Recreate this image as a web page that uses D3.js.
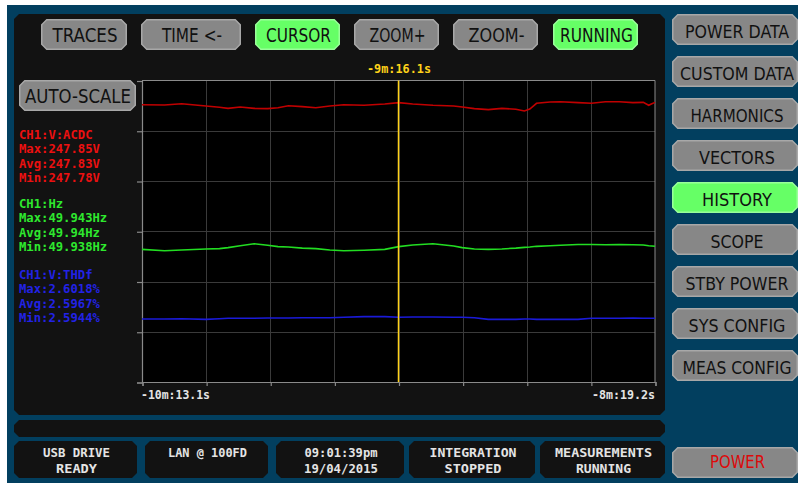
<!DOCTYPE html>
<html><head><meta charset="utf-8">
<script src="https://cdn.jsdelivr.net/npm/d3@7"></script>
<style>html,body{margin:0;padding:0;background:#fff;overflow:hidden}svg{display:block}</style>
</head><body><svg id="c" width="798" height="483"></svg>
<script>
// ---------------- DATA ----------------
const topButtons = ["TRACES","TIME <-","CURSOR","ZOOM+","ZOOM-","RUNNING"];
const topActive  = [false,false,true,false,false,true];
const sideButtons = ["POWER DATA","CUSTOM DATA","HARMONICS","VECTORS","HISTORY","SCOPE","STBY POWER","SYS CONFIG","MEAS CONFIG"];
const sideActive  = [false,false,false,false,true,false,false,false,false];
const powerLabel = "POWER";
const autoScaleLabel = "AUTO-SCALE";
const statusLines = [["USB DRIVE","READY"],["LAN @ 100FD"],["09:01:39pm","19/04/2015"],["INTEGRATION","STOPPED"],["MEASUREMENTS","RUNNING"]];
const xTickLabels = ["-10m:13.1s","-8m:19.2s"];
const cursorLabel = "-9m:16.1s";
const timeDomain = [-613.1, -499.2];   // seconds
const cursorTime = -556.15;
const voltageLegend = ["CH1:V:ACDC","Max:247.85V","Avg:247.83V","Min:247.78V"];
const freqLegend    = ["CH1:Hz","Max:49.943Hz","Avg:49.94Hz","Min:49.938Hz"];
const thdLegend     = ["CH1:V:THDf","Max:2.6018%","Avg:2.5967%","Min:2.5944%"];
const voltageRange = [247.78, 247.85];
const freqRange    = [49.938, 49.943];
const thdRange     = [2.5944, 2.6018];

const times = [-613.1,-608.1,-604.3,-598.9,-595.9,-594.0,-591.3,-588.2,-585.2,-582.9,
               -580.6,-577.5,-574.5,-571.4,-568.3,-563.8,-559.2,-556.1,-553.0,-548.5,
               -543.9,-542.0,-539.3,-536.2,-533.2,-530.1,-528.2,-527.0,-525.5,-522.5,
               -520.2,-516.3,-513.3,-510.2,-507.1,-504.1,-501.8,-500.6,-499.9,-499.2];
const voltage = [247.827,247.825,247.835,247.818,247.808,247.800,247.810,247.800,247.798,247.805,
                 247.820,247.813,247.805,247.818,247.827,247.823,247.833,247.843,247.833,247.823,
                 247.818,247.810,247.798,247.790,247.800,247.793,247.780,247.795,247.838,247.848,
                 247.850,247.843,247.838,247.850,247.850,247.843,247.845,247.823,247.835,247.845];
const freq = [49.9391,49.9382,49.9387,49.9394,49.9396,49.9403,49.9416,49.9430,49.9419,49.9410,
              49.9407,49.9400,49.9396,49.9387,49.9382,49.9385,49.9391,49.9410,49.9421,49.9430,
              49.9414,49.9403,49.9394,49.9391,49.9394,49.9400,49.9405,49.9407,49.9412,49.9416,
              49.9419,49.9425,49.9425,49.9423,49.9425,49.9423,49.9421,49.9416,49.9414,49.9412];
const thd = [2.5959,2.5959,2.5966,2.5951,2.5966,2.5974,2.5974,2.5974,2.5981,2.5981,
             2.5981,2.5988,2.5988,2.5988,2.5996,2.6011,2.6011,2.5996,2.6003,2.6003,
             2.5996,2.5996,2.5988,2.5951,2.5951,2.5951,2.5959,2.5959,2.5951,2.5951,
             2.5951,2.5951,2.5974,2.5974,2.5974,2.5981,2.5974,2.5974,2.5974,2.5974];

// ---------------- LAYOUT / STYLE ----------------
const C = {
  blue:"#023f5f", panel:"#121212", plotBg:"#000", grid:"#3a3a3a", border:"#8a8a8a",
  btn:"#878787", btnEdge:"#a8a8a8", green:"#66ff66", greenEdge:"#99ff99", btnText:"#111",
  red:"#ec1010", redLine:"#c00000", grn:"#2ee82e", grnLine:"#22dd22", blu:"#2222e6", bluLine:"#1a1ad8",
  yellow:"#ffd21a", label:"#e4e4e4"
};
const btnFont = "'DejaVu Sans Condensed','DejaVu Sans',sans-serif";
const monoFont = "'DejaVu Sans Mono',monospace";

const svg = d3.select("#c");
function cham(x,y,w,h,c){
  return `M${x+c},${y}H${x+w-c}L${x+w},${y+c}V${y+h-c}L${x+w-c},${y+h}H${x+c}L${x},${y+h-c}V${y+c}Z`;
}
function txt(g,s,x,y,opt){
  const t = g.append("text").attr("x",x).attr("y",y).text(s)
    .attr("font-family",opt.font).attr("font-size",opt.size).attr("fill",opt.fill)
    .attr("text-anchor",opt.anchor||"middle");
  if(opt.weight) t.attr("font-weight",opt.weight);
  if(opt.len){ t.attr("textLength",opt.len).attr("lengthAdjust","spacingAndGlyphs"); }
  return t;
}

// background
svg.append("rect").attr("width",798).attr("height",483).attr("fill","#fff");
svg.append("rect").attr("x",7).attr("y",5).attr("width",791).attr("height",478).attr("fill",C.blue);

// panels
svg.append("path").attr("d",cham(14,14,651,401,5)).attr("fill",C.panel);
svg.append("path").attr("d",cham(14,420,651,17,5)).attr("fill",C.panel);

// status boxes
const stX=[14,145,276,409,540], stW=[123,123,128,126,125];
const stLens=[[67,41],[79],[73,74],[87,57],[97,55]];
statusLines.forEach((lines,i)=>{
  const g=svg.append("g");
  g.append("path").attr("d",cham(stX[i],441,stW[i],37,5)).attr("fill",C.panel);
  lines.forEach((s,j)=>txt(g,s,stX[i]+stW[i]/2+1,457+j*16,{font:monoFont,size:12.5,fill:C.label,weight:"bold",len:stLens[i][j]}));
});

// top buttons
const tbX=[41,141,255,354,453,553], tbW=[86,100,85,85,85,85], tbLen=[65,60,65,56,56,73];
topButtons.forEach((s,i)=>{
  const g=svg.append("g");
  g.append("path").attr("d",cham(tbX[i]+0.75,19.75,tbW[i]-1.5,29.5,5))
    .attr("fill",topActive[i]?C.green:C.btn).attr("stroke",topActive[i]?C.greenEdge:C.btnEdge).attr("stroke-width",1.5);
  txt(g,s,tbX[i]+tbW[i]/2+1,42,{font:btnFont,size:19,fill:C.btnText,len:tbLen[i]});
});
// auto-scale
{
  const g=svg.append("g");
  g.append("path").attr("d",cham(19.75,80.75,115.5,29.5,5)).attr("fill",C.btn).attr("stroke",C.btnEdge).attr("stroke-width",1.5);
  txt(g,autoScaleLabel,78,103,{font:btnFont,size:19,fill:C.btnText,len:106});
}
// side buttons
const sbLen=[104,114,93,76,70,53,103,97,109];
sideButtons.forEach((s,i)=>{
  const g=svg.append("g"), y=14+i*42;
  g.append("path").attr("d",cham(672.75,y+0.75,124.5,29.5,5))
    .attr("fill",sideActive[i]?C.green:C.btn).attr("stroke",sideActive[i]?C.greenEdge:C.btnEdge).attr("stroke-width",1.5);
  txt(g,s,737,y+23.5,{font:btnFont,size:18,fill:C.btnText,len:sbLen[i]});
});
{
  const g=svg.append("g");
  g.append("path").attr("d",cham(672.75,447.75,124.5,29.5,5)).attr("fill",C.btn).attr("stroke",C.btnEdge).attr("stroke-width",1.5);
  txt(g,powerLabel,737.5,468,{font:btnFont,size:18,fill:"#dd0a0a",len:55});
}

// legends
const legends=[[voltageLegend,139,C.red],[freqLegend,208,C.grn],[thdLegend,279,C.blu]];
legends.forEach(([lines,y0,col])=>{
  lines.forEach((s,j)=>txt(svg,s,19,y0+j*14.3,{font:monoFont,size:12.1,fill:col,weight:"bold",anchor:"start",len:s.length*7.35}));
});

// ---------------- PLOT ----------------
const L=142, R=655, T=80.5, B=382;
const x = d3.scaleLinear().domain(timeDomain).range([L,R]);
const gx = d3.scaleLinear().domain([0,8]).range([L,R]);
const gy = d3.scaleLinear().domain([0,6]).range([T,B]);
const plot = svg.append("g");
plot.append("rect").attr("x",L).attr("y",T).attr("width",R-L).attr("height",B-T).attr("fill",C.plotBg);
// grid
plot.append("g").selectAll("line").data(d3.range(1,8)).join("line")
  .attr("x1",d=>Math.round(gx(d))+0.5).attr("x2",d=>Math.round(gx(d))+0.5).attr("y1",T).attr("y2",B)
  .attr("stroke",C.grid).attr("stroke-width",1);
plot.append("g").selectAll("line").data(d3.range(1,6)).join("line")
  .attr("y1",d=>Math.round(gy(d))+0.5).attr("y2",d=>Math.round(gy(d))+0.5).attr("x1",L).attr("x2",R)
  .attr("stroke",C.grid).attr("stroke-width",1);
// borders
plot.append("line").attr("x1",L).attr("x2",R).attr("y1",T).attr("y2",T).attr("stroke",C.border);
plot.append("line").attr("x1",R).attr("x2",R).attr("y1",T).attr("y2",B).attr("stroke",C.border);
// axes
const axB = plot.append("g").attr("transform",`translate(0.5,${B})`)
  .call(d3.axisBottom(gx).ticks(8).tickSize(4).tickSizeOuter(4).tickFormat(""));
const axL = plot.append("g").attr("transform",`translate(${L},0.5)`)
  .call(d3.axisLeft(gy).ticks(6).tickSize(5).tickSizeOuter(5).tickFormat(""));
[axB,axL].forEach(a=>{a.selectAll("path,line").attr("stroke",C.border).attr("stroke-width",1.2);});

// traces
const series=[
  [voltage, d3.scaleLinear().domain(voltageRange).range([111,101.7]), C.redLine],
  [freq,    d3.scaleLinear().domain(freqRange).range([251,243.7]),   C.grnLine],
  [thd,     d3.scaleLinear().domain(thdRange).range([319.7,316.3]),  C.bluLine]
];
series.forEach(([vals,ys,col])=>{
  plot.append("path").datum(vals)
    .attr("d",d3.line().x((d,i)=>x(times[i])).y(d=>ys(d)))
    .attr("fill","none").attr("stroke",col).attr("stroke-width",1.6);
});
// cursor
plot.append("line").attr("x1",x(cursorTime)).attr("x2",x(cursorTime)).attr("y1",T).attr("y2",B)
  .attr("stroke",C.yellow).attr("stroke-width",1.5);
txt(svg,cursorLabel,x(cursorTime)+0.5,73,{font:monoFont,size:13,fill:C.yellow,weight:"bold",len:64});
// x labels
txt(svg,xTickLabels[0],L-1,399,{font:monoFont,size:13,fill:C.label,weight:"bold",anchor:"start",len:69});
txt(svg,xTickLabels[1],R,399,{font:monoFont,size:13,fill:C.label,weight:"bold",anchor:"end",len:63});
</script></body></html>
